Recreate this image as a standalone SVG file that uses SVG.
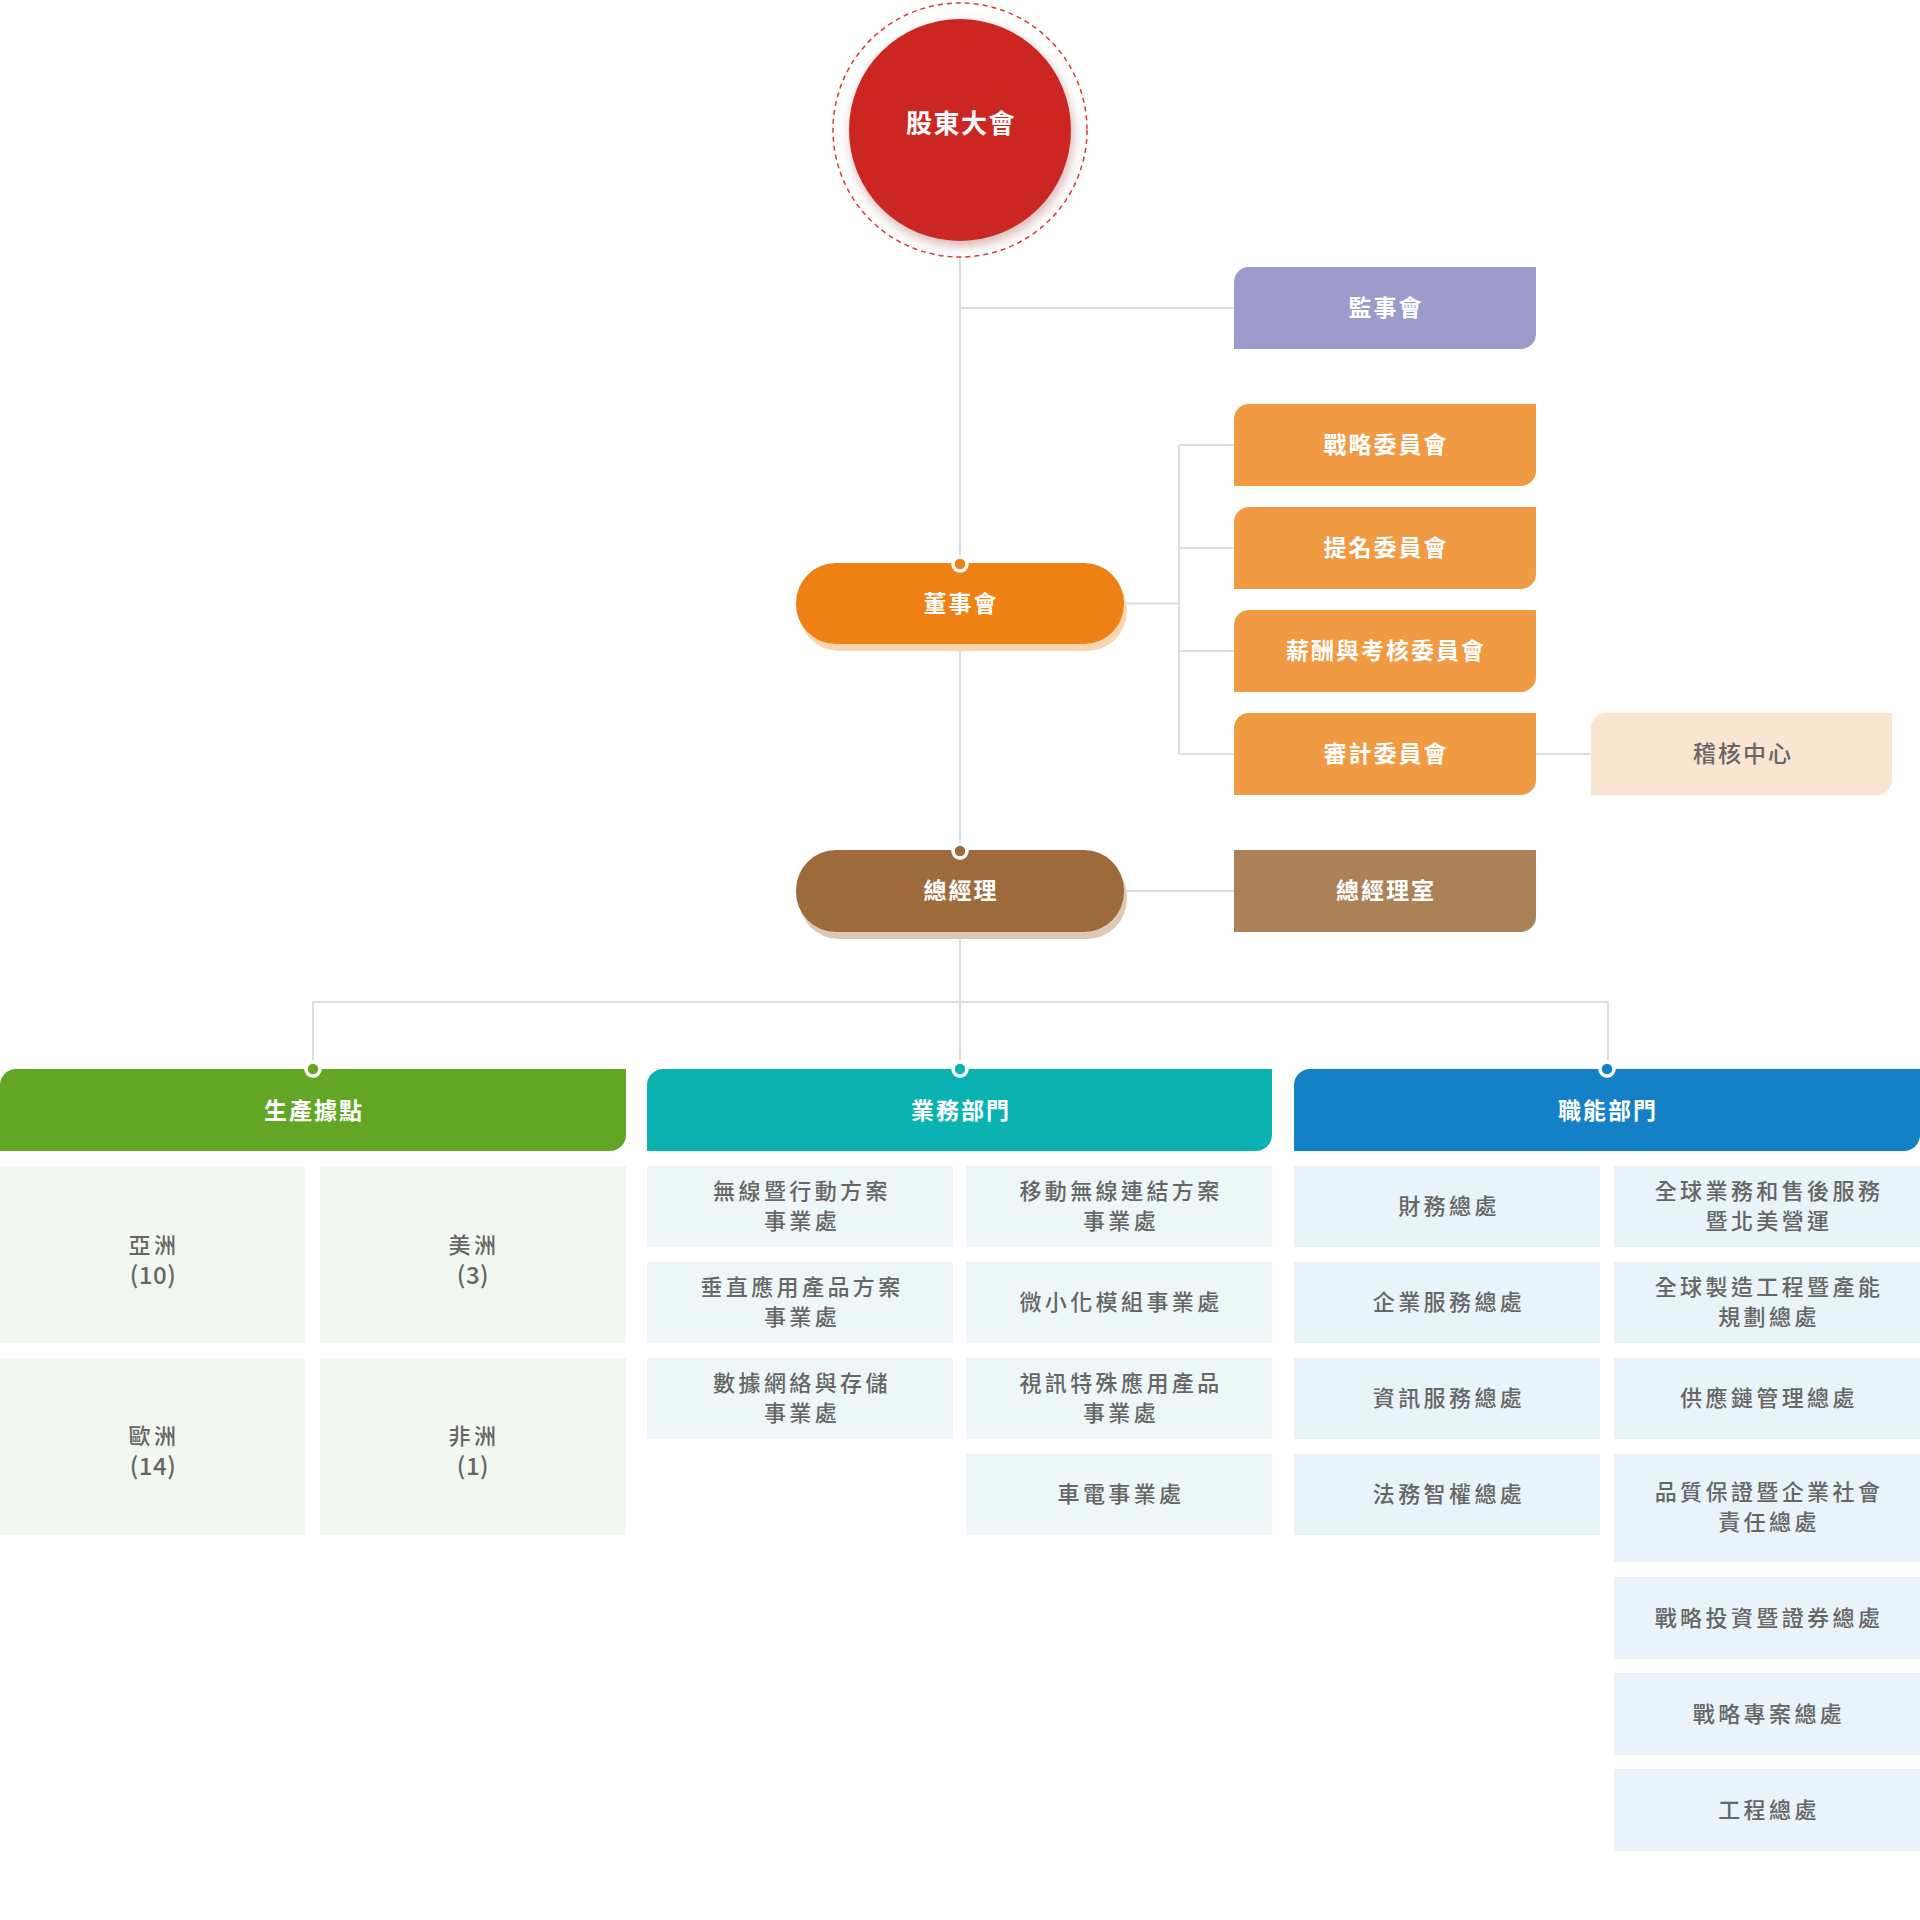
<svg xmlns="http://www.w3.org/2000/svg" width="1920" height="1920" viewBox="0 0 1920 1920">
<defs>
<filter id="sh" x="-30%" y="-30%" width="160%" height="160%">
<feDropShadow dx="2" dy="5" stdDeviation="6" flood-color="#7a1010" flood-opacity="0.3"/>
</filter>
<style>
text{font-family:"Noto Sans CJK TC","Noto Sans CJK SC","Noto Sans",sans-serif;text-anchor:middle}
.w{fill:#fff;font-size:23px;font-weight:bold;letter-spacing:2px}
.g{fill:#666;font-size:22px;font-weight:500;letter-spacing:3.4px}
.n{letter-spacing:0.5px;font-size:24px}
.ln{stroke:#dddddd;stroke-width:2;fill:none}
.dot{stroke:#fff;stroke-width:3.5}
.cg{fill:#f2f7ef}
.ct{fill:#edf7f8}
.cb{fill:#e8f3fa}
</style>
</defs>
<rect width="1920" height="1920" fill="#fff"/>

<g id="connectors">
<path class="ln" d="M960 257 V1069"/>
<path class="ln" d="M960 308 H1234"/>
<path class="ln" d="M1124 603.5 H1179 M1179 445 V754 M1179 445 H1234 M1179 548 H1234 M1179 651 H1234 M1179 754 H1234"/>
<path class="ln" d="M1536 754 H1591"/>
<path class="ln" d="M1124 891 H1234"/>
<path class="ln" d="M313 1069 V1002 H1608 V1069"/>
</g>

<g id="shareholders">
<circle cx="960" cy="130" r="127" fill="#fff" stroke="#d9383a" stroke-width="1.5" stroke-dasharray="5 4"/>
<circle cx="960" cy="130" r="111" fill="#cc2722" filter="url(#sh)"/>
<text class="w" x="961" y="133" style="font-size:26px;letter-spacing:1.5px">股東大會</text>
</g>

<g id="supervisors">
<path d="M1234 282 A15 15 0 0 1 1249 267 H1536 V334 A15 15 0 0 1 1521 349 H1234 Z" fill="#9b9bcc"/>
<text class="w" x="1386" y="316">監事會</text>
</g>

<g id="board">
<rect x="799" y="570" width="328" height="81" rx="40" fill="#f9d5b0"/>
<rect x="796" y="563" width="328" height="81" rx="40" fill="#ee8014"/>
<circle class="dot" cx="960" cy="564" r="7" fill="#ee8014"/>
<text class="w" x="961" y="611.5">董事會</text>
</g>

<g id="committee-strategy">
<path d="M1234 419 A15 15 0 0 1 1249 404 H1536 V471 A15 15 0 0 1 1521 486 H1234 Z" fill="#f09a43"/>
<text class="w" x="1386" y="453">戰略委員會</text>
</g>
<g id="committee-nomination">
<path d="M1234 522 A15 15 0 0 1 1249 507 H1536 V574 A15 15 0 0 1 1521 589 H1234 Z" fill="#f09a43"/>
<text class="w" x="1386" y="556">提名委員會</text>
</g>
<g id="committee-compensation">
<path d="M1234 625 A15 15 0 0 1 1249 610 H1536 V677 A15 15 0 0 1 1521 692 H1234 Z" fill="#f09a43"/>
<text class="w" x="1386" y="659">薪酬與考核委員會</text>
</g>
<g id="committee-audit">
<path d="M1234 728 A15 15 0 0 1 1249 713 H1536 V780 A15 15 0 0 1 1521 795 H1234 Z" fill="#f09a43"/>
<text class="w" x="1386" y="762">審計委員會</text>
</g>
<g id="audit-center">
<path d="M1591 728 A15 15 0 0 1 1606 713 H1892 V780 A15 15 0 0 1 1877 795 H1591 Z" fill="#fae5d3"/>
<text class="g" x="1743" y="762" style="font-size:23px;letter-spacing:2px">稽核中心</text>
</g>

<g id="president">
<rect x="799" y="857" width="328" height="82" rx="40" fill="#dcc8b5"/>
<rect x="796" y="850" width="328" height="82" rx="40" fill="#9e6c3c"/>
<circle class="dot" cx="960" cy="851" r="7" fill="#9e6c3c"/>
<text class="w" x="961" y="899">總經理</text>
</g>
<g id="president-office">
<path d="M1234 850 H1536 V917 A15 15 0 0 1 1521 932 H1234 Z" fill="#ab8157"/>
<text class="w" x="1386" y="899">總經理室</text>
</g>

<g id="production">
<path d="M0 1085 A16 16 0 0 1 16 1069 H626 V1135 A16 16 0 0 1 610 1151 H0 Z" fill="#63a626"/>
<circle class="dot" cx="313" cy="1069" r="7" fill="#63a626"/>
<text class="w" x="314" y="1118.5">生產據點</text>
<rect class="cg" x="0" y="1166" width="305" height="177"/>
<rect class="cg" x="320" y="1166" width="306" height="177"/>
<rect class="cg" x="0" y="1358" width="305" height="177"/>
<rect class="cg" x="320" y="1358" width="306" height="177"/>
<text class="g" x="154" y="1253">亞洲</text><text class="g n" x="153" y="1284">(10)</text>
<text class="g" x="474" y="1253">美洲</text><text class="g n" x="473" y="1284">(3)</text>
<text class="g" x="154" y="1444">歐洲</text><text class="g n" x="153" y="1475">(14)</text>
<text class="g" x="474" y="1444">非洲</text><text class="g n" x="473" y="1475">(1)</text>
</g>

<g id="business">
<path d="M647 1085 A16 16 0 0 1 663 1069 H1272 V1135 A16 16 0 0 1 1256 1151 H647 Z" fill="#0bb2b2"/>
<circle class="dot" cx="960" cy="1069" r="7" fill="#0bb2b2"/>
<text class="w" x="961" y="1118.5">業務部門</text>
<rect class="ct" x="647" y="1166" width="306" height="81"/>
<rect class="ct" x="647" y="1262" width="306" height="81"/>
<rect class="ct" x="647" y="1358" width="306" height="81"/>
<rect class="ct" x="966" y="1166" width="306" height="81"/>
<rect class="ct" x="966" y="1262" width="306" height="81"/>
<rect class="ct" x="966" y="1358" width="306" height="81"/>
<rect class="ct" x="966" y="1454" width="306" height="81"/>
<text class="g" x="802" y="1199">無線暨行動方案</text><text class="g" x="802" y="1229">事業處</text>
<text class="g" x="802" y="1295">垂直應用產品方案</text><text class="g" x="802" y="1325">事業處</text>
<text class="g" x="802" y="1391">數據網絡與存儲</text><text class="g" x="802" y="1421">事業處</text>
<text class="g" x="1121" y="1199">移動無線連結方案</text><text class="g" x="1121" y="1229">事業處</text>
<text class="g" x="1121" y="1310">微小化模組事業處</text>
<text class="g" x="1121" y="1391">視訊特殊應用產品</text><text class="g" x="1121" y="1421">事業處</text>
<text class="g" x="1121" y="1502">車電事業處</text>
</g>

<g id="functional">
<path d="M1294 1085 A16 16 0 0 1 1310 1069 H1920 V1135 A16 16 0 0 1 1904 1151 H1294 Z" fill="#1480c6"/>
<circle class="dot" cx="1607" cy="1069" r="7" fill="#1480c6"/>
<text class="w" x="1608" y="1118.5">職能部門</text>
<rect class="cb" x="1294" y="1166" width="306" height="81"/>
<rect class="cb" x="1294" y="1262" width="306" height="81"/>
<rect class="cb" x="1294" y="1358" width="306" height="81"/>
<rect class="cb" x="1294" y="1454" width="306" height="81"/>
<rect class="cb" x="1614" y="1166" width="306" height="81"/>
<rect class="cb" x="1614" y="1262" width="306" height="81"/>
<rect class="cb" x="1614" y="1358" width="306" height="81"/>
<rect class="cb" x="1614" y="1454" width="306" height="108"/>
<rect class="cb" x="1614" y="1577" width="306" height="82"/>
<rect class="cb" x="1614" y="1673" width="306" height="82"/>
<rect class="cb" x="1614" y="1769" width="306" height="82"/>
<text class="g" x="1449" y="1214">財務總處</text>
<text class="g" x="1449" y="1310">企業服務總處</text>
<text class="g" x="1449" y="1406">資訊服務總處</text>
<text class="g" x="1449" y="1502">法務智權總處</text>
<text class="g" x="1769" y="1199">全球業務和售後服務</text><text class="g" x="1769" y="1229">暨北美營運</text>
<text class="g" x="1769" y="1295">全球製造工程暨產能</text><text class="g" x="1769" y="1325">規劃總處</text>
<text class="g" x="1769" y="1406">供應鏈管理總處</text>
<text class="g" x="1769" y="1500">品質保證暨企業社會</text><text class="g" x="1769" y="1530">責任總處</text>
<text class="g" x="1769" y="1626">戰略投資暨證券總處</text>
<text class="g" x="1769" y="1722">戰略專案總處</text>
<text class="g" x="1769" y="1818">工程總處</text>
</g>
</svg>
